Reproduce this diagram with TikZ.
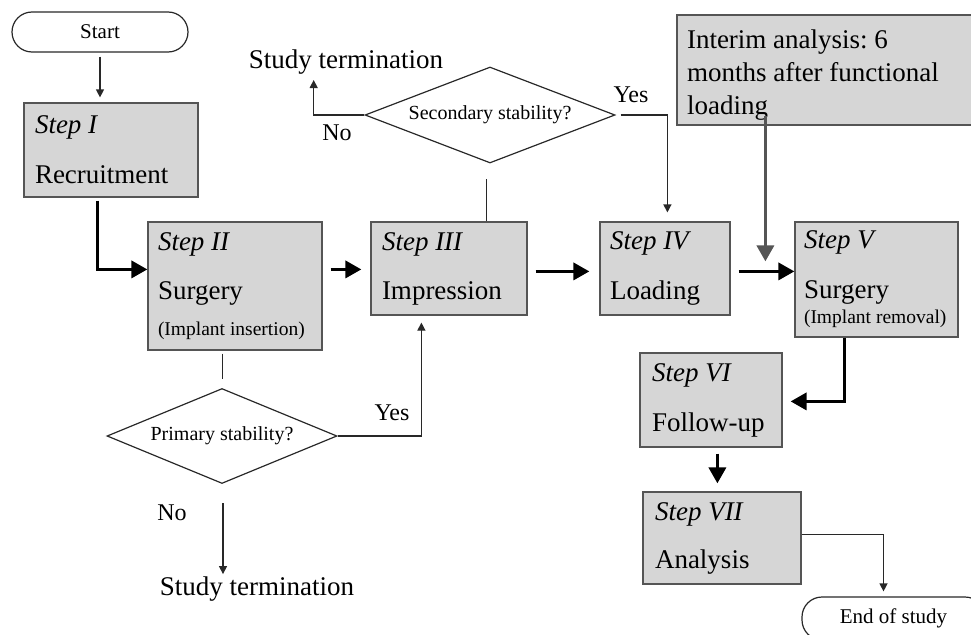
\documentclass[tikz,border=0pt]{standalone}
\usepackage{fontspec}
\setmainfont{Liberation Serif}
\usetikzlibrary{shapes.geometric, arrows.meta, positioning, calc}
\definecolor{boxgray}{RGB}{214,214,214}
\definecolor{boxedge}{RGB}{85,85,85}
\definecolor{linegray}{RGB}{40,40,40}
\newcommand{\fstep}{\fontsize{27pt}{31pt}\selectfont}
\newcommand{\fnote}{\fontsize{19.5pt}{22pt}\selectfont}
\newcommand{\fdec}{\fontsize{20pt}{23pt}\selectfont}
\newcommand{\fpill}{\fontsize{21pt}{24pt}\selectfont}
\newcommand{\fyesno}{\fontsize{24pt}{28pt}\selectfont}
\frenchspacing

\begin{document}
\begin{tikzpicture}[x=1pt, y=-1pt,
    stepbox/.style={draw=boxedge, fill=boxgray, line width=1.2pt, align=flush left, inner sep=0pt, font=\fstep},
    pill/.style={draw=linegray, line width=1.2pt, rounded corners=20pt, inner sep=0pt, font=\fpill},
    decision/.style={diamond, aspect=2.6, draw=linegray, line width=1.2pt, inner sep=0pt, font=\fdec},
    lbl/.style={anchor=base, inner sep=0pt, font=\fstep},
    yesno/.style={anchor=base, inner sep=0pt, font=\fyesno},
    thinline/.style={draw=linegray, line width=1.2pt},
    thinarrow/.style={thinline, -{Triangle[length=8pt, width=8pt]}},
    thickarrow/.style={draw=black, line width=3.5pt, -{Triangle[length=16pt, width=17pt]}}]
    \useasboundingbox (0,0) rectangle (971,634);
    \clip (0,0) rectangle (971,634);
    % Start and end
    \node[pill, minimum width=176pt, minimum height=40pt] (start) at (100,32) {Start};
    \node[pill, minimum width=183pt, minimum height=43pt] (endstudy) at (893.5,618.5) {End of study};
    % Steps
    \node[stepbox, minimum width=174pt, minimum height=94pt, text width=152pt] (step1) at (111,150) {\textit{Step I}\\[19pt]Recruitment};
    \node[stepbox, minimum width=174pt, minimum height=128pt, text width=154pt] (step2) at (235,286) {\textit{Step II}\\[18pt]Surgery\\[5pt]{\fnote (Implant insertion)}};
    \node[stepbox, minimum width=156pt, minimum height=93pt, text width=134pt] (step3) at (449,268.5) {\textit{Step III}\\[18pt]Impression};
    \node[stepbox, minimum width=130pt, minimum height=93pt, text width=110pt] (step4) at (665,268.5) {\textit{Step IV}\\[19pt]Loading};
    \node[stepbox, minimum width=163pt, minimum height=115pt, text width=145pt] (step5) at (876.5,279.5) {\textit{Step V}\\[19pt]Surgery\\[-6pt]{\fnote (Implant removal)}};
    \node[stepbox, minimum width=142pt, minimum height=94pt, text width=118pt] (step6) at (711,400) {\textit{Step VI}\\[19pt]Follow-up};
    \node[stepbox, minimum width=158pt, minimum height=92pt, text width=134pt] (step7) at (722,538) {\textit{Step VII}\\[17pt]Analysis};
    \node[stepbox, minimum width=295pt, minimum height=110pt, text width=275pt] (interim) at (824.5,70) {\rule{0pt}{29pt}Interim analysis: 6\\[2pt]months after functional\\[2pt]loading};
    % Decisions
    \node[decision, minimum width=250pt, minimum height=96pt] (sec) at (490,115) {Secondary stability?};
    \node[decision, minimum width=230pt, minimum height=95pt] (prim) at (222,436) {Primary stability?};
    % Labels
    \node[lbl] (termtop) at (346,68) {Study termination};
    \node[lbl] (termbot) at (257,595) {Study termination};
    \node[yesno] (no1) at (337,140) {No};
    \node[yesno] (yes1) at (631,102) {Yes};
    \node[yesno] (yes2) at (392,420) {Yes};
    \node[yesno] (no2) at (172,520) {No};
    % Main flow
    \draw[thinarrow] ($(start.south)+(0,4)$) -- ($(start.south |- step1.north)+(0,-5)$);
    \draw[thickarrow] ($(step1.south west)+(74,3)$) |- ($(step2.north west)+(0,48)$);
    \draw[thickarrow] ($(step2.north east)+(8,48)$) -- ($(step3.north west)+(-9,48)$);
    \draw[thickarrow] ($(step3.north east)+(8,50)$) -- ($(step4.north west)+(-10,50)$);
    \draw[thickarrow] ($(step4.north east)+(8,50)$) -- ($(step5.north west)+(0,50)$);
    \draw[thickarrow, draw=boxedge] ($(interim.south west)+(89,-10)$) -- ($(step5.north west)+(-29,40)$);
    \draw[thickarrow] ($(step5.south west)+(50,0)$) |- ($(step6.north east)+(8,49)$);
    \draw[thickarrow] ($(step6.south west)+(78,6)$) -- ($(step7.north west)+(75,-8)$);
    \draw[thinarrow] ($(step7.north east)+(0,43)$) -| ($(endstudy.north)+(-10,-5)$);
    % Secondary stability
    \draw[thinline] ($(step3.north west)+(116,0)$) -- ++(0,-42);
    \draw[thinarrow] (sec.west) -| ($(termtop.base west)+(65,12)$);
    \draw[thinarrow] ($(sec.east)+(5,0)$) -| ($(step4.north west)+(68,-9)$);
    % Primary stability
    \draw[thinline] ($(step2.south west)+(75,3)$) -- ++(0,25);
    \draw[thinarrow] (prim.east) -| ($(step3.south west)+(51,7)$);
    \draw[thinarrow] ($(prim.south)+(1,19)$) -- ($(prim.south)+(1,90)$);
\end{tikzpicture}
\end{document}
